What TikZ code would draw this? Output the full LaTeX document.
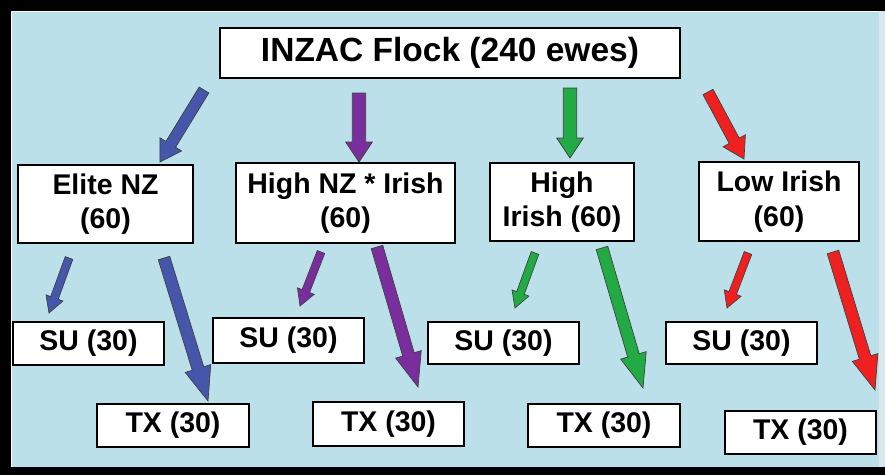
\documentclass[tikz,border=0pt]{standalone}
\usepackage{fontspec}
\setmainfont{Liberation Sans}
\usetikzlibrary{calc}
\definecolor{bgblue}{HTML}{BCE0EA}
\definecolor{edgegrey}{HTML}{DDE6EA}
\definecolor{arblue}{HTML}{4656AA}
\definecolor{arpurple}{HTML}{7A2E9E}
\definecolor{argreen}{HTML}{22AA44}
\definecolor{arred}{HTML}{EE2020}
\newcommand\blockarrow[6]{%
  \coordinate (bneck) at ($(#3)!#6!(#2)$);
  \draw[arrowline, fill=#1]
    ($(#2)!#4!90:(#3)$) -- ($(bneck)!#4!90:(#3)$) -- ($(bneck)!#5!90:(#3)$) -- (#3)
    -- ($(bneck)!#5!-90:(#3)$) -- ($(bneck)!#4!-90:(#3)$) -- ($(#2)!#4!-90:(#3)$) -- cycle;
}
\tikzset{
  box/.style={draw=black, line width=2.1pt, fill=white, inner sep=0pt, align=center,
    font=\bfseries\fontsize{24.3}{29.5}\selectfont},
  arrowline/.style={draw=black!75, line width=0.6pt, line join=miter},
}
\begin{document}
\begin{tikzpicture}[x=0.03cm,y=-0.03cm]
\useasboundingbox (0,0) rectangle (885,475);
\fill[black] (0,0) rectangle (885,475);
\fill[edgegrey] (879,11) rectangle (885,467);
\fill[bgblue] (11,11) rectangle (879,467);
\draw[white, line width=0.6pt] (11.5,11.5) -- (878.5,11.5);
\draw[white, line width=0.6pt] (11.5,11.5) -- (11.5,466.5);

\node[box, minimum width=13.8cm, minimum height=1.5cm, font=\bfseries\fontsize{28.6}{34}\selectfont] (top) at (450,53) {INZAC Flock (240 ewes)};

\node[box, minimum width=5.25cm, minimum height=2.34cm] (elite) at (105.5,204) {Elite NZ\\(60)};
\node[box, minimum width=6.57cm, minimum height=2.4cm] (hnz) at (345.5,203) {High NZ * Irish\\(60)};
\node[box, minimum width=4.32cm, minimum height=2.34cm] (hi) at (562,202) {High\\Irish (60)};
\node[box, minimum width=4.8cm, minimum height=2.37cm] (li) at (779,201.5) {Low Irish\\(60)};

\node[box, minimum width=4.53cm, minimum height=1.29cm] (su1) at (88.5,343.5) {SU (30)};
\node[box, minimum width=4.53cm, minimum height=1.35cm] (su2) at (288.5,340.5) {SU (30)};
\node[box, minimum width=4.53cm, minimum height=1.26cm] (su3) at (503.5,343) {SU (30)};
\node[box, minimum width=4.53cm, minimum height=1.26cm] (su4) at (741.5,343) {SU (30)};

\node[box, minimum width=4.56cm, minimum height=1.29cm] (tx1) at (173,425.5) {TX (30)};
\node[box, minimum width=4.53cm, minimum height=1.32cm] (tx2) at (388.5,424) {TX (30)};
\node[box, minimum width=4.56cm, minimum height=1.29cm] (tx3) at (604,425.5) {TX (30)};
\node[box, minimum width=4.53cm, minimum height=1.29cm] (tx4) at (800.5,432.5) {TX (30)};

% arrow end coordinates
\coordinate (a1t) at (204,90);  \coordinate (a1h) at (160,162);
\coordinate (a2t) at (359,93);  \coordinate (a2h) at (359,162);
\coordinate (a3t) at (570,88);  \coordinate (a3h) at (570,158);
\coordinate (a4t) at (708,92);  \coordinate (a4h) at (744,159);

\coordinate (b1t) at (69,258);  \coordinate (b1h) at (49,313);
\coordinate (c1t) at (164,258); \coordinate (c1h) at (208,401);
\coordinate (b2t) at (321,252); \coordinate (b2h) at (300,306);
\coordinate (c2t) at (377,247); \coordinate (c2h) at (418,387);
\coordinate (b3t) at (535,253); \coordinate (b3h) at (515,308);
\coordinate (c3t) at (602,248); \coordinate (c3h) at (643,388);
\coordinate (b4t) at (748,253); \coordinate (b4h) at (727,308);
\coordinate (c4t) at (833,252); \coordinate (c4h) at (875,390);

\blockarrow{arblue}{a1t}{a1h}{0.17cm}{0.38cm}{0.62cm}
\blockarrow{arpurple}{a2t}{a2h}{0.2cm}{0.4cm}{0.6cm}
\blockarrow{argreen}{a3t}{a3h}{0.2cm}{0.4cm}{0.6cm}
\blockarrow{arred}{a4t}{a4h}{0.17cm}{0.38cm}{0.62cm}

\blockarrow{arblue}{b1t}{b1h}{0.12cm}{0.27cm}{0.48cm}
\blockarrow{arblue}{c1t}{c1h}{0.18cm}{0.4cm}{1.02cm}
\blockarrow{arpurple}{b2t}{b2h}{0.12cm}{0.27cm}{0.48cm}
\blockarrow{arpurple}{c2t}{c2h}{0.18cm}{0.4cm}{1.02cm}
\blockarrow{argreen}{b3t}{b3h}{0.12cm}{0.27cm}{0.48cm}
\blockarrow{argreen}{c3t}{c3h}{0.18cm}{0.4cm}{1.02cm}
\blockarrow{arred}{b4t}{b4h}{0.12cm}{0.27cm}{0.48cm}
\blockarrow{arred}{c4t}{c4h}{0.18cm}{0.4cm}{1.02cm}
\end{tikzpicture}
\end{document}
